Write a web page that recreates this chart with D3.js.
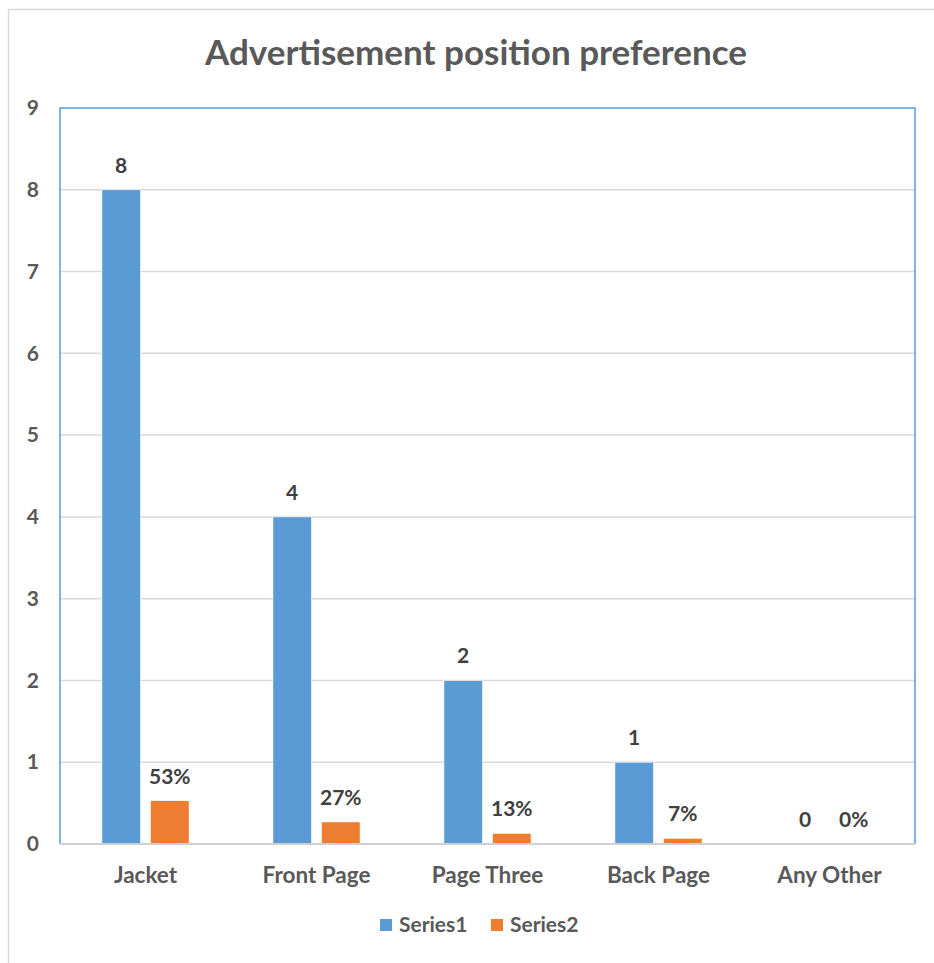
<!DOCTYPE html>
<html>
<head>
<meta charset="utf-8">
<script src="https://cdn.jsdelivr.net/npm/d3@7/dist/d3.min.js"></script>
<style>
  html, body { margin: 0; padding: 0; background: #fff; }
  svg { display: block; }
  text { font-family: Lato, "Open Sans", sans-serif; font-weight: bold; fill: #595959; }
</style>
</head>
<body>
<svg id="chart" width="934" height="963"></svg>
<script>
// Chart data
const categories = ["Jacket", "Front Page", "Page Three", "Back Page", "Any Other"];
const seriesNames = ["Series1", "Series2"];
const series1 = [8, 4, 2, 1, 0];
const series2 = [0.53, 0.27, 0.13, 0.07, 0];
const yTicks = [0, 1, 2, 3, 4, 5, 6, 7, 8, 9];
const colors = ["#5B9BD5", "#ED7D31"];

const svg = d3.select("#chart");
const W = 934, H = 963;
const plot = { left: 60, right: 915, top: 108, bottom: 844 };

// Outer chart frame
svg.append("path")
  .attr("d", `M8.5,${H} V9.5 H${W}`)
  .attr("fill", "none")
  .attr("stroke", "#D9D9D9")
  .attr("stroke-width", 1.5);

// Title
svg.append("text")
  .attr("x", 476).attr("y", 65)
  .attr("text-anchor", "middle")
  .style("font-size", "35px")
  .text("Advertisement position preference");

const y = d3.scaleLinear().domain([0, 9]).range([plot.bottom, plot.top]);
const x0 = d3.scaleBand().domain(categories).range([plot.left, plot.right]).paddingInner(0).paddingOuter(0);
const x1 = d3.scaleBand().domain(seriesNames).range([0, x0.bandwidth()]).paddingInner(0.206).paddingOuter(0.863);

// Gridlines
svg.append("g")
  .selectAll("line")
  .data(yTicks.filter(t => t > 0 && t < 9))
  .join("line")
  .attr("x1", plot.left).attr("x2", plot.right)
  .attr("y1", d => y(d)).attr("y2", d => y(d))
  .attr("stroke", "#D9D9D9")
  .attr("stroke-width", 1.5);

// Plot area border (left, top, right)
svg.append("path")
  .attr("d", `M${plot.left},${plot.bottom} V${plot.top} H${plot.right} V${plot.bottom}`)
  .attr("fill", "none")
  .attr("stroke", "#5B9BD5")
  .attr("stroke-width", 1.5);

// Bars
const rows = categories.map((c, i) => ({ cat: c, vals: [series1[i], series2[i]] }));
const groups = svg.append("g").selectAll("g")
  .data(rows)
  .join("g")
  .attr("transform", d => `translate(${x0(d.cat)},0)`);

groups.selectAll("rect")
  .data(d => d.vals.map((v, j) => ({ s: seriesNames[j], v, j })))
  .join("rect")
  .attr("x", d => x1(d.s))
  .attr("width", x1.bandwidth())
  .attr("y", d => y(d.v))
  .attr("height", d => y(0) - y(d.v))
  .attr("fill", d => colors[d.j])
  .attr("stroke", "#fff")
  .attr("stroke-width", 0.6);

// Value labels
const fmtPct = d3.format(".0%");
groups.selectAll("text.val")
  .data(d => d.vals.map((v, j) => ({ s: seriesNames[j], v, j })))
  .join("text")
  .attr("class", "val")
  .attr("x", d => x1(d.s) + x1.bandwidth() / 2)
  .attr("y", d => y(d.v) - 17)
  .attr("text-anchor", "middle")
  .style("font-size", "21px")
  .style("fill", "#404040")
  .text(d => d.j === 0 ? d.v : fmtPct(d.v));

// Bottom axis line
svg.append("line")
  .attr("x1", plot.left).attr("x2", plot.right)
  .attr("y1", plot.bottom).attr("y2", plot.bottom)
  .attr("stroke", "#D0D0D0")
  .attr("stroke-width", 2);

// Y axis
const yAxis = svg.append("g")
  .attr("transform", `translate(${plot.left},0)`)
  .call(d3.axisLeft(y).tickValues(yTicks).tickSize(0).tickPadding(21));
yAxis.select(".domain").remove();
yAxis.selectAll("text").style("font-size", "21px").attr("fill", null);

// X axis
const xAxis = svg.append("g")
  .attr("transform", `translate(0,${plot.bottom})`)
  .call(d3.axisBottom(x0).tickSize(0).tickPadding(23));
xAxis.select(".domain").remove();
xAxis.selectAll("text").style("font-size", "22.5px").attr("fill", null);

// Legend
const legend = svg.append("g").attr("transform", "translate(380,919)");
const items = legend.selectAll("g")
  .data(seriesNames)
  .join("g")
  .attr("transform", (d, i) => `translate(${i * 111},0)`);
items.append("rect").attr("width", 12).attr("height", 12).attr("fill", (d, i) => colors[i]);
items.append("text").attr("x", 19).attr("y", 13).style("font-size", "21px").text(d => d);
</script>
</body>
</html>
